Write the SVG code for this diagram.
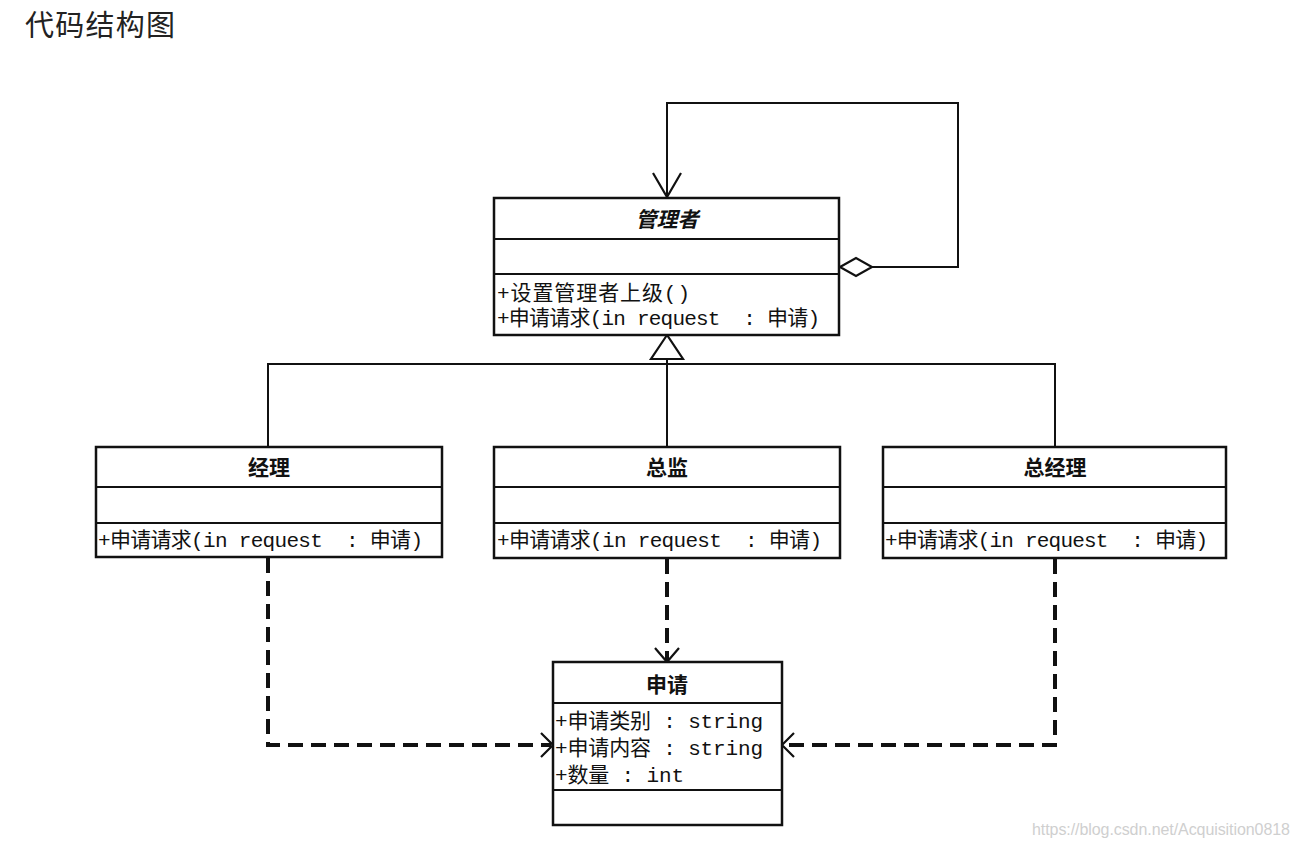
<svg xmlns="http://www.w3.org/2000/svg" width="1301" height="847" viewBox="0 0 1301 847">
<style>
.box{fill:#fff;stroke:#111;stroke-width:2.5}
.div{stroke:#111;stroke-width:2.2}
.ln{fill:none;stroke:#111;stroke-width:2}
.dash{fill:none;stroke:#111;stroke-width:4;stroke-dasharray:15 8}
.head{fill:none;stroke:#111;stroke-width:2.2}
.name{font-family:"Noto Sans CJK SC",sans-serif;font-size:21px;font-weight:bold;fill:#111;text-anchor:middle}
.mem{font-family:"Liberation Mono","Noto Sans CJK SC",monospace;font-size:21px;fill:#111}
.title{font-family:"Noto Sans CJK SC",sans-serif;font-size:29px;fill:#222}
.wm{font-family:"Liberation Sans",sans-serif;font-size:16px;fill:#cfcfcf}
</style>
<rect width="1301" height="847" fill="#fff"/>
<text class="title" x="25" y="36" textLength="150">代码结构图</text>

<g id="connectors">
  <path class="ln" d="M268,447 V364 H1055 V447 M667,447 V359"/>
  <polygon points="667,335 651,359 683,359" fill="#fff" stroke="#111" stroke-width="2.2"/>
  <path class="ln" d="M872,267 H958 V103 H667 V197"/>
  <path class="head" d="M653,173 L667,197 L681,173"/>
  <polygon points="840,267 856,258 872,267 856,276" fill="#fff" stroke="#111" stroke-width="2.2"/>
  <path class="dash" d="M268,558 V745 H551"/>
  <path class="dash" d="M667,559 V660"/>
  <path class="dash" d="M1055,559 V745 H784"/>
  <path class="head" d="M655,648 L667,662 L679,648"/>
  <path class="head" d="M541,733 L553,745 L541,757"/>
  <path class="head" d="M794,733 L782,745 L794,757"/>
</g>

<g id="manager">
  <rect class="box" x="494" y="198" width="345" height="137"/>
  <line class="div" x1="494" y1="239" x2="839" y2="239"/>
  <line class="div" x1="494" y1="274" x2="839" y2="274"/>
  <text class="name" x="667" y="227" font-style="italic">管理者</text>
  <text class="mem" x="497" y="300" textLength="193">+设置管理者上级()</text>
  <text class="mem" x="497" y="325" textLength="323" xml:space="preserve">+申请请求(in request  : 申请)</text>
</g>

<g id="jingli">
  <rect class="box" x="96" y="447" width="346" height="110"/>
  <line class="div" x1="96" y1="487" x2="442" y2="487"/>
  <line class="div" x1="96" y1="523" x2="442" y2="523"/>
  <text class="name" x="269" y="475">经理</text>
  <text class="mem" x="98" y="547" textLength="325" xml:space="preserve">+申请请求(in request  : 申请)</text>
</g>

<g id="zongjian">
  <rect class="box" x="494" y="447" width="346" height="111"/>
  <line class="div" x1="494" y1="487" x2="840" y2="487"/>
  <line class="div" x1="494" y1="523" x2="840" y2="523"/>
  <text class="name" x="667" y="475">总监</text>
  <text class="mem" x="497" y="547" textLength="325" xml:space="preserve">+申请请求(in request  : 申请)</text>
</g>

<g id="zongjingli">
  <rect class="box" x="883" y="447" width="343" height="111"/>
  <line class="div" x1="883" y1="487" x2="1226" y2="487"/>
  <line class="div" x1="883" y1="523" x2="1226" y2="523"/>
  <text class="name" x="1055" y="475">总经理</text>
  <text class="mem" x="885" y="547" textLength="323" xml:space="preserve">+申请请求(in request  : 申请)</text>
</g>

<g id="shenqing">
  <rect class="box" x="553" y="662" width="229" height="163"/>
  <line class="div" x1="553" y1="703" x2="782" y2="703"/>
  <line class="div" x1="553" y1="790" x2="782" y2="790"/>
  <text class="name" x="667" y="692">申请</text>
  <text class="mem" x="555" y="728" textLength="208">+申请类别 : string</text>
  <text class="mem" x="555" y="755" textLength="208">+申请内容 : string</text>
  <text class="mem" x="555" y="782" textLength="129">+数量 : int</text>
</g>

<text class="wm" x="1032" y="835" textLength="258">https://blog.csdn.net/Acquisition0818</text>
</svg>
